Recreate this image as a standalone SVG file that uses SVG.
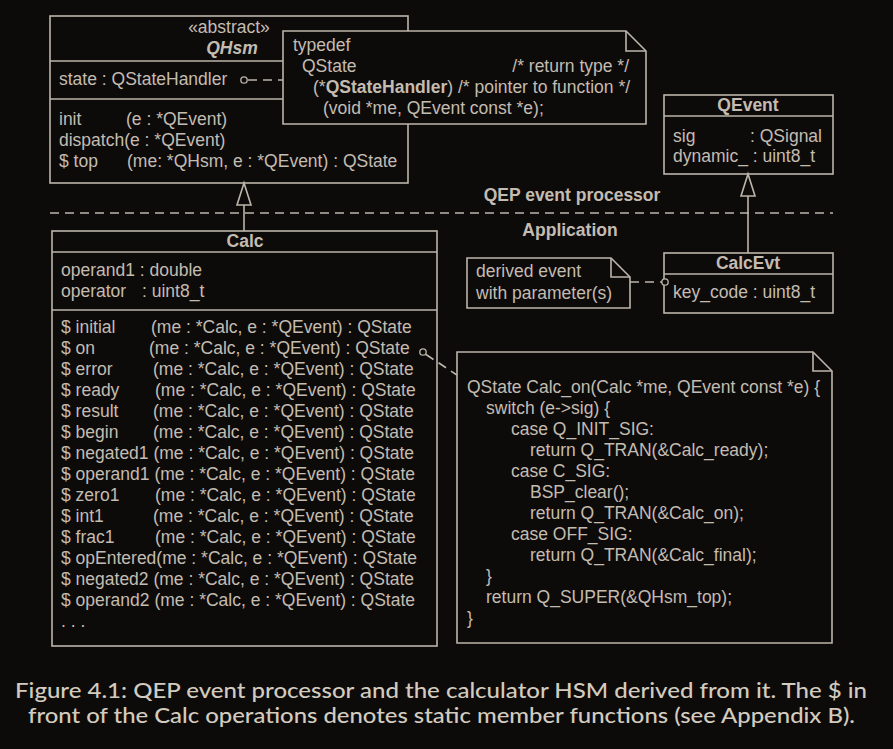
<svg xmlns="http://www.w3.org/2000/svg" width="893" height="749" viewBox="0 0 893 749">
<defs>
<style>
.bg{fill:#0d0b0a}
.box{fill:#0d0b0a;stroke:#bdb5aa;stroke-width:1.6}
.ln{fill:none;stroke:#bdb5aa;stroke-width:1.6}
.dash{fill:none;stroke:#bdb5aa;stroke-width:1.6;stroke-dasharray:9 6}
.tri{fill:#0d0b0a;stroke:#bdb5aa;stroke-width:1.6}
.dot{fill:#0d0b0a;stroke:#bdb5aa;stroke-width:1.3}
text{font-family:"Liberation Sans",Arial,sans-serif;font-size:17.5px;fill:#c4bcb1}
.b{font-weight:bold}
.bi{font-weight:bold;font-style:italic}
.c{text-anchor:middle}
.r{text-anchor:end}
.cap{font-family:Lato,"Noto Sans",sans-serif;font-size:21px;font-weight:500;fill:#d3cbbf}
</style>
</defs>
<rect class="bg" x="0" y="0" width="893" height="749"/>

<g id="divider">
<line class="dash" x1="50" y1="213" x2="833" y2="213" stroke-dasharray="10 6"/>
<text class="b c" x="572" y="201">QEP event processor</text>
<text class="b c" x="570" y="236">Application</text>
</g>

<g id="QHsm">
<rect class="box" x="50" y="16" width="358" height="167"/>
<line class="ln" x1="50" y1="61" x2="408" y2="61"/>
<line class="ln" x1="50" y1="99" x2="408" y2="99"/>
<text class="c" x="229" y="33">«abstract»</text>
<text class="bi c" x="232" y="54">QHsm</text>
<text x="59" y="85">state : QStateHandler</text>
<text x="59" y="125">init</text><text x="126" y="125">(e : *QEvent)</text>
<text x="59" y="146">dispatch(e : *QEvent)</text>
<text x="59" y="167">$ top</text><text x="127" y="167">(me: *QHsm, e : *QEvent) : QState</text>
</g>

<g id="typedefNote">
<path class="box" d="M283,31 H626 L646,51 V124 H283 Z"/>
<path class="ln" d="M626,31 V51 H646"/>
<text x="293" y="51">typedef</text>
<text x="302" y="72">QState</text>
<text class="r" x="629" y="72">/* return type */</text>
<text x="313" y="93">(*<tspan class="b">QStateHandler</tspan>) /* pointer to function */</text>
<text x="323" y="114">(void *me, QEvent const *e);</text>
</g>

<g id="QEvent">
<rect class="box" x="664" y="95" width="169" height="79"/>
<line class="ln" x1="664" y1="116" x2="833" y2="116"/>
<text class="b c" x="748" y="111">QEvent</text>
<text x="673" y="142">sig</text><text x="750" y="142">: QSignal</text>
<text x="673" y="162">dynamic_ : uint8_t</text>
</g>

<g id="CalcEvt">
<rect class="box" x="664" y="253" width="169" height="60"/>
<line class="ln" x1="664" y1="274" x2="833" y2="274"/>
<text class="b c" x="748" y="269">CalcEvt</text>
<text x="673" y="298">key_code : uint8_t</text>
</g>

<g id="derivedNote">
<path class="box" d="M467,258 H611 L630,277 V308 H467 Z"/>
<path class="ln" d="M611,258 V277 H630"/>
<text x="476" y="277">derived event</text>
<text x="476" y="299">with parameter(s)</text>
</g>

<g id="Calc">
<rect class="box" x="52" y="231" width="385" height="415"/>
<line class="ln" x1="52" y1="252" x2="437" y2="252"/>
<line class="ln" x1="52" y1="310" x2="437" y2="310"/>
<text class="b c" x="245" y="247">Calc</text>
<text x="61" y="276">operand1 : double</text>
<text x="61" y="297">operator</text><text x="142" y="297">: uint8_t</text>
<text x="61" y="333">$ initial</text><text x="151" y="333">(me : *Calc, e : *QEvent) : QState</text>
<text x="61" y="354">$ on</text><text x="149" y="354">(me : *Calc, e : *QEvent) : QState</text>
<text x="61" y="375">$ error</text><text x="153" y="375">(me : *Calc, e : *QEvent) : QState</text>
<text x="61" y="396">$ ready</text><text x="155" y="396">(me : *Calc, e : *QEvent) : QState</text>
<text x="61" y="417">$ result</text><text x="153" y="417">(me : *Calc, e : *QEvent) : QState</text>
<text x="61" y="438">$ begin</text><text x="153" y="438">(me : *Calc, e : *QEvent) : QState</text>
<text x="61" y="459">$ negated1 (me : *Calc, e : *QEvent) : QState</text>
<text x="61" y="480">$ operand1 (me : *Calc, e : *QEvent) : QState</text>
<text x="61" y="501">$ zero1</text><text x="155" y="501">(me : *Calc, e : *QEvent) : QState</text>
<text x="61" y="522">$ int1</text><text x="153" y="522">(me : *Calc, e : *QEvent) : QState</text>
<text x="61" y="543">$ frac1</text><text x="155" y="543">(me : *Calc, e : *QEvent) : QState</text>
<text x="61" y="564">$ opEntered(me : *Calc, e : *QEvent) : QState</text>
<text x="61" y="585">$ negated2 (me : *Calc, e : *QEvent) : QState</text>
<text x="61" y="606">$ operand2 (me : *Calc, e : *QEvent) : QState</text>
<text x="61" y="627">. . .</text>
</g>

<g id="codeNote">
<path class="box" d="M457,352 H813 L832,371 V643 H457 Z"/>
<path class="ln" d="M813,352 V371 H832"/>
<text x="467" y="393">QState Calc_on(Calc *me, QEvent const *e) {</text>
<text x="486" y="414">switch (e-&gt;sig) {</text>
<text x="511" y="435">case Q_INIT_SIG:</text>
<text x="530" y="456">return Q_TRAN(&amp;Calc_ready);</text>
<text x="511" y="477">case C_SIG:</text>
<text x="530" y="498">BSP_clear();</text>
<text x="530" y="519">return Q_TRAN(&amp;Calc_on);</text>
<text x="511" y="540">case OFF_SIG:</text>
<text x="530" y="561">return Q_TRAN(&amp;Calc_final);</text>
<text x="486" y="582">}</text>
<text x="486" y="603">return Q_SUPER(&amp;QHsm_top);</text>
<text x="467" y="624">}</text>
</g>

<g id="connectors">
<line class="ln" x1="244" y1="205" x2="244" y2="231"/>
<polygon class="tri" points="244,183 237,205 251,205"/>
<line class="ln" x1="748" y1="196" x2="748" y2="253"/>
<polygon class="tri" points="748,174 741,196 755,196"/>
<line class="dash" x1="248" y1="80" x2="283" y2="80" stroke-dasharray="8 5"/>
<circle class="dot" cx="244" cy="80" r="3.2"/>
<line class="dash" x1="630" y1="282" x2="662" y2="282" stroke-dasharray="9 6"/>
<circle class="dot" cx="665" cy="282" r="3.2"/>
<line class="dash" x1="426" y1="354.5" x2="457" y2="375" stroke-dasharray="8 8"/>
<circle class="dot" cx="423" cy="352" r="3.2"/>
</g>

<g id="caption">
<text class="cap" x="15" y="698" textLength="852" lengthAdjust="spacingAndGlyphs">Figure 4.1:  QEP event processor and the calculator HSM derived from it. The $ in</text>
<text class="cap" x="28" y="723" textLength="827" lengthAdjust="spacingAndGlyphs">front of the Calc operations denotes static member functions (see Appendix B).</text>
</g>
</svg>
